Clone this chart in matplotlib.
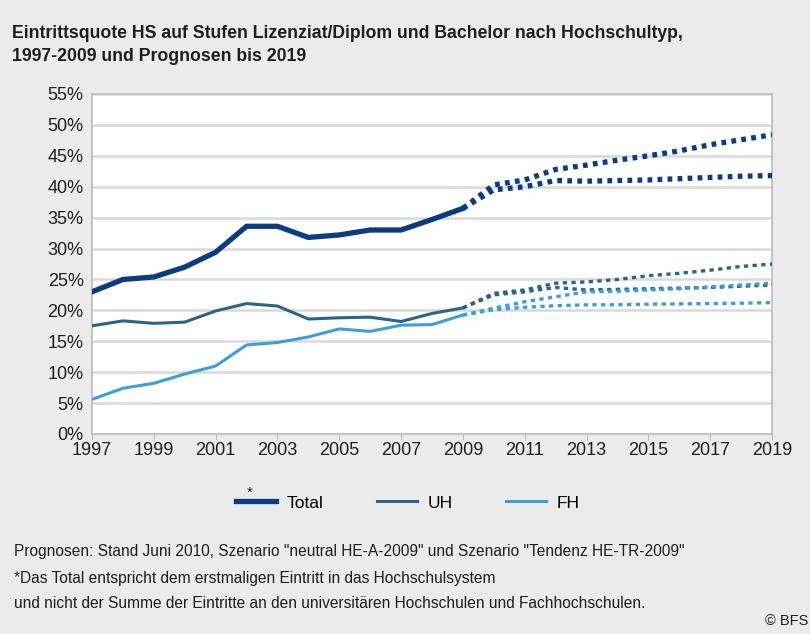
import matplotlib
matplotlib.use("Agg")
import matplotlib.pyplot as plt
from matplotlib.lines import Line2D
from matplotlib.ticker import FuncFormatter, MultipleLocator

plt.rcParams['font.family'] = ['Liberation Sans', 'DejaVu Sans']

years_hist = list(range(1997, 2010))
total_hist = [23.0, 25.0, 25.4, 27.0, 29.4, 33.6, 33.6, 31.8, 32.2, 33.0, 33.0, 34.7, 36.5]
uh_hist = [17.5, 18.3, 17.9, 18.1, 19.9, 21.1, 20.7, 18.6, 18.8, 18.9, 18.2, 19.5, 20.4]
fh_hist = [5.6, 7.4, 8.2, 9.7, 11.0, 14.4, 14.8, 15.7, 17.0, 16.6, 17.6, 17.7, 19.25]

years_proj = list(range(2009, 2020))
total_high = [36.5, 40.3, 41.1, 42.8, 43.5, 44.3, 45.0, 45.8, 46.8, 47.6, 48.4]
total_low = [36.5, 39.5, 40.0, 41.0, 40.9, 41.0, 41.1, 41.3, 41.5, 41.7, 41.8]
uh_high = [20.4, 22.75, 23.3, 24.4, 24.6, 25.0, 25.6, 26.0, 26.5, 27.1, 27.5]
uh_low = [20.4, 22.5, 23.0, 23.7, 23.3, 23.4, 23.5, 23.6, 23.7, 23.9, 24.1]
fh_high = [19.25, 20.35, 21.4, 22.2, 23.0, 23.1, 23.3, 23.5, 23.8, 24.1, 24.4]
fh_low = [19.25, 20.1, 20.5, 20.75, 20.9, 20.9, 21.0, 21.05, 21.1, 21.15, 21.25]

legend_labels = ['Total', 'UH', 'FH']

c_total = '#0b3c82'
c_uh = '#2a6486'
c_fh = '#3d9fd6'
bg = '#ebebeb'
txt = '#1e1e1e'

fig = plt.figure(figsize=(8.1, 6.34), dpi=100, facecolor=bg)
ax = fig.add_axes([92/810, 1-434/634, 680/810, 340/634])
ax.set_facecolor('white')

ax.plot(years_hist, total_hist, color=c_total, lw=3.8, zorder=5)
ax.plot(years_hist, uh_hist, color=c_uh, lw=2.2, zorder=4)
ax.plot(years_hist, fh_hist, color=c_fh, lw=2.2, zorder=4)

dot_t = (0, (0.9, 1.0))
dot_s = (0, (1.3, 1.3))
ax.plot(years_proj, total_high, color=c_total, lw=3.8, ls=dot_t, dash_capstyle='butt', zorder=5)
ax.plot(years_proj, total_low, color=c_total, lw=3.8, ls=dot_t, dash_capstyle='butt', zorder=5)
ax.plot(years_proj, uh_high, color=c_uh, lw=2.4, ls=dot_s, dash_capstyle='butt', zorder=4)
ax.plot(years_proj, uh_low, color=c_uh, lw=2.4, ls=dot_s, dash_capstyle='butt', zorder=4)
ax.plot(years_proj, fh_high, color=c_fh, lw=2.4, ls=dot_s, dash_capstyle='butt', zorder=4)
ax.plot(years_proj, fh_low, color=c_fh, lw=2.4, ls=dot_s, dash_capstyle='butt', zorder=4)

ax.set_xlim(1997, 2019)
ax.set_ylim(0, 55)
ax.yaxis.set_major_locator(MultipleLocator(5))
ax.yaxis.set_major_formatter(FuncFormatter(lambda v, p: f"{int(round(v))}%"))
ax.set_xticks(list(range(1997, 2020, 2)))
ax.grid(axis='y', color='#d9d9d9', lw=1.8)
ax.set_axisbelow(True)
for s in ax.spines.values():
    s.set_color('#bdbdbd')
    s.set_linewidth(1.2)
ax.tick_params(axis='both', labelsize=13, colors=txt, length=0, pad=6)
ax.tick_params(axis='x', length=4, color='#bdbdbd', direction='out', pad=2)

fig.text(12/810, 1-38/634, "Eintrittsquote HS auf Stufen Lizenziat/Diplom und Bachelor nach Hochschultyp,",
         fontsize=12.7, fontweight='bold', va='baseline', ha='left', color=txt)
fig.text(12/810, 1-61/634, "1997-2009 und Prognosen bis 2019",
         fontsize=12.7, fontweight='bold', va='baseline', ha='left', color=txt)

handles = [Line2D([0], [0], color=c_total, lw=3.8),
           Line2D([0], [0], color=c_uh, lw=2.2),
           Line2D([0], [0], color=c_fh, lw=2.2)]
fig.legend(handles, legend_labels, loc='center left', bbox_to_anchor=(236/810, 1-503/634),
           ncol=3, frameon=False, fontsize=12.5, handlelength=2.3, columnspacing=3.1,
           handletextpad=0.6, borderpad=0, borderaxespad=0)
fig.text(250/810, 1-493/634, "*", fontsize=11, ha='center', va='center', color=txt)

fig.text(14/810, 1-556/634, 'Prognosen: Stand Juni 2010, Szenario "neutral HE-A-2009" und Szenario "Tendenz HE-TR-2009"',
         fontsize=11.2, ha='left', va='baseline', color=txt)
fig.text(14/810, 1-583/634, '*Das Total entspricht dem erstmaligen Eintritt in das Hochschulsystem',
         fontsize=11.2, ha='left', va='baseline', color=txt)
fig.text(14/810, 1-608/634, 'und nicht der Summe der Eintritte an den universitären Hochschulen und Fachhochschulen.',
         fontsize=11.2, ha='left', va='baseline', color=txt)
fig.text(808/810, 1-625/634, '© BFS', fontsize=10.5, ha='right', va='baseline', color=txt)

fig.savefig('out.png', dpi=100, facecolor=bg)
